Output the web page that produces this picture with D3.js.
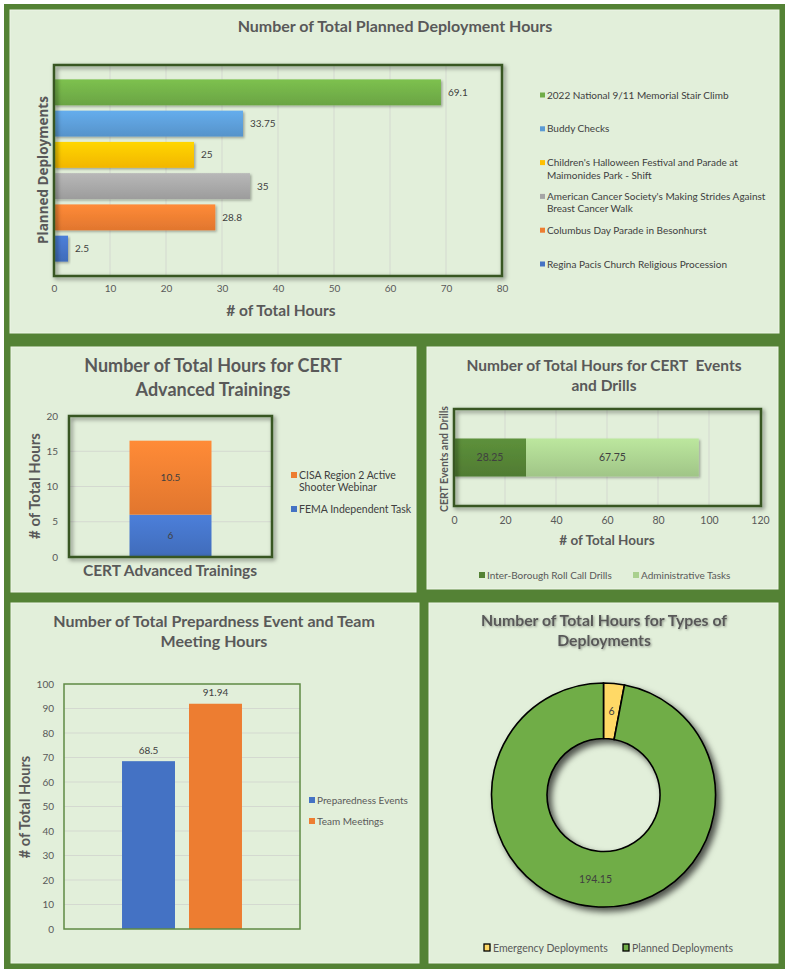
<!DOCTYPE html>
<html>
<head>
<meta charset="utf-8">
<script src="https://cdn.jsdelivr.net/npm/d3@7"></script>
<style>
  body { margin: 0; background: #fff; }
  svg { display: block; font-family: Lato, "Liberation Sans", sans-serif; }
</style>
</head>
<body>
<div id="dash"></div>
<script>
// ---------------------------------------------------------------- data
var deployNames = [
  "2022 National 9/11 Memorial Stair Climb",
  "Buddy Checks",
  "Children's Halloween Festival and Parade at Maimonides Park - Shift",
  "American Cancer Society's Making Strides Against Breast Cancer Walk",
  "Columbus Day Parade in Besonhurst",
  "Regina Pacis Church Religious Procession"
];
var deployHours = [69.1, 33.75, 25, 35, 28.8, 2.5];
var deployColors = ["#70ad47", "#5b9bd5", "#ffc000", "#a5a5a5", "#ed7d31", "#4472c4"];

var trainingCategory = "CERT Advanced Trainings";
var trainingNames = ["FEMA Independent Task", "CISA Region 2 Active Shooter Webinar"];
var trainingHours = [6, 10.5];
var trainingColors = ["#4472c4", "#ed7d31"];

var drillCategory = "CERT Events and Drills";
var drillNames = ["Inter-Borough Roll Call Drills", "Administrative Tasks"];
var drillHours = [28.25, 67.75];
var drillColors = ["#548235", "#a9d08e"];

var prepCategory = "Hours";
var prepNames = ["Preparedness Events", "Team Meetings"];
var prepHours = [68.5, 91.94];
var prepColors = ["#4472c4", "#ed7d31"];

var typeNames = ["Emergency Deployments", "Planned Deployments"];
var typeHours = [6, 194.15];
var typeColors = ["#ffd966", "#70ad47"];

// ---------------------------------------------------------------- setup
var W = 785, H = 969;
var panelFill = "#e2efda";
var titleColor = "#595959";
var labelColor = "#404040";
var gridColor = "#d4d9d0";
var boxColor = "#375623";

var svg = d3.select("#dash").append("svg")
  .attr("width", W)
  .attr("height", H);

var defs = svg.append("defs");

function shadow(id, dx, dy, sd, op) {
  defs.append("filter")
    .attr("id", id)
    .attr("x", "-20%").attr("y", "-20%")
    .attr("width", "140%").attr("height", "140%")
    .append("feDropShadow")
    .attr("dx", dx).attr("dy", dy)
    .attr("stdDeviation", sd)
    .attr("flood-color", "#000")
    .attr("flood-opacity", op);
}
shadow("boxShadow", 2, 2, 2, 0.5);
shadow("barShadow", 1.5, 1.5, 1.2, 0.3);
shadow("ringShadow", 4, 4, 3, 0.65);
shadow("textShadow", 1, 1, 0.8, 0.35);

// vertical gradient, lighter on top like the Excel preset fills
function gradient(id, color) {
  var g = defs.append("linearGradient")
    .attr("id", id)
    .attr("x1", 0).attr("y1", 0).attr("x2", 0).attr("y2", 1);
  g.append("stop").attr("offset", "0%").attr("stop-color", d3.color(color).brighter(0.3));
  g.append("stop").attr("offset", "100%").attr("stop-color", d3.color(color).darker(0.15));
  return "url(#" + id + ")";
}

// green frame and the five panels
svg.append("rect")
  .attr("x", 4).attr("y", 4)
  .attr("width", W - 4).attr("height", H - 4)
  .attr("fill", "#548235");

function panel(x, y, w, h) {
  svg.append("rect")
    .attr("x", x).attr("y", y)
    .attr("width", w).attr("height", h)
    .attr("fill", panelFill)
    .attr("stroke", "#eef6e8")
    .attr("stroke-width", 1);
  return svg.append("g");
}

function title(g, lines, cx, cy, lh, size) {
  var t = g.append("text")
    .attr("text-anchor", "middle")
    .attr("fill", titleColor)
    .style("font-weight", "bold")
    .style("font-size", size + "px");
  lines.forEach(function(l, i) {
    t.append("tspan")
      .attr("x", cx)
      .attr("y", cy + i * lh)
      .attr("dy", "0.35em")
      .text(l);
  });
  return t;
}

// wrap legend text into tspans that fit a width
function wrap(sel, width, lh) {
  sel.each(function() {
    var t = d3.select(this),
        words = t.text().split(/\s+/),
        x = +t.attr("x"), y = +t.attr("y"),
        line = [], n = 0;
    var tspan = t.text(null).append("tspan").attr("x", x).attr("y", y).attr("dy", "0.35em");
    words.forEach(function(w) {
      line.push(w);
      tspan.text(line.join(" "));
      if (tspan.node().getComputedTextLength() > width && line.length > 1) {
        line.pop();
        tspan.text(line.join(" "));
        line = [w];
        n++;
        tspan = t.append("tspan").attr("x", x).attr("y", y + n * lh).attr("dy", "0.35em").text(w);
      }
    });
  });
}

function styleAxis(g, size) {
  g.attr("font-family", null).attr("font-size", null);
  g.select(".domain").remove();
  g.selectAll("text")
    .attr("fill", titleColor)
    .style("font-size", size + "px");
}

// ---------------------------------------------------------------- chart 1
var c1 = panel(10, 10, W - 16, 323);
title(c1, ["Number of Total Planned Deployment Hours"], 395, 26, 0, 16);

var x1 = d3.scaleLinear().domain([0, 80]).range([54, 502]);
var y1 = d3.scaleBand().domain(deployNames).range([65, 276])
  .paddingInner(0.17).paddingOuter(0.46);

c1.append("g").selectAll("line")
  .data(x1.ticks(8).slice(1, -1))
  .enter().append("line")
  .attr("x1", d => x1(d)).attr("x2", d => x1(d))
  .attr("y1", 65).attr("y2", 276)
  .attr("stroke", gridColor);

c1.append("g")
  .attr("transform", "translate(0,276)")
  .call(d3.axisBottom(x1).ticks(8).tickSize(0).tickPadding(9))
  .call(g => styleAxis(g, 10));

c1.append("g").selectAll("rect")
  .data(deployNames)
  .enter().append("rect")
  .attr("x", x1(0))
  .attr("y", d => y1(d))
  .attr("width", (d, i) => x1(deployHours[i]) - x1(0))
  .attr("height", y1.bandwidth())
  .attr("fill", (d, i) => gradient("g1_" + i, deployColors[i]))
  .attr("filter", "url(#barShadow)");

c1.append("g").selectAll("text")
  .data(deployNames)
  .enter().append("text")
  .attr("x", (d, i) => x1(deployHours[i]) + 7)
  .attr("y", d => y1(d) + y1.bandwidth() / 2)
  .attr("dy", "0.35em")
  .attr("fill", labelColor)
  .style("font-size", "10px")
  .text((d, i) => deployHours[i]);

c1.append("rect")
  .attr("x", 54).attr("y", 65)
  .attr("width", 448).attr("height", 211)
  .attr("fill", "none")
  .attr("stroke", boxColor)
  .attr("stroke-width", 2.5)
  .attr("filter", "url(#boxShadow)");

c1.append("text")
  .attr("x", 281).attr("y", 311).attr("dy", "0.35em")
  .attr("text-anchor", "middle")
  .attr("fill", titleColor)
  .style("font-weight", "bold").style("font-size", "15.5px")
  .text("# of Total Hours");

c1.append("text")
  .attr("transform", "translate(43,170) rotate(-90)")
  .attr("dy", "0.35em")
  .attr("text-anchor", "middle")
  .attr("fill", titleColor)
  .style("font-family", "'Open Sans', sans-serif")
  .style("font-weight", "bold").style("font-size", "13.5px")
  .text("Planned Deployments");

var leg1 = c1.append("g").selectAll("g")
  .data(deployNames)
  .enter().append("g");
leg1.append("rect")
  .attr("x", 540).attr("y", (d, i) => 95 + i * 33.8 - 2.5)
  .attr("width", 5).attr("height", 5)
  .attr("fill", (d, i) => deployColors[i]);
leg1.append("text")
  .attr("x", 547).attr("y", (d, i) => 95 + i * 33.8)
  .attr("fill", labelColor)
  .style("font-size", "10px")
  .text(d => d)
  .call(wrap, 226, 12.5);

// ---------------------------------------------------------------- chart 2
var c2 = panel(11, 347, 405, 245);
title(c2, ["Number of Total Hours for CERT", "Advanced Trainings"], 213, 366, 24, 18);

var y2 = d3.scaleLinear().domain([0, 20]).range([557, 416]);
var x2 = d3.scaleBand().domain([trainingCategory]).range([69, 272]).padding(0.4246);

c2.append("g").selectAll("line")
  .data(y2.ticks(4).slice(1, -1))
  .enter().append("line")
  .attr("x1", 69).attr("x2", 272)
  .attr("y1", d => y2(d)).attr("y2", d => y2(d))
  .attr("stroke", gridColor);

c2.append("g")
  .attr("transform", "translate(69,0)")
  .call(d3.axisLeft(y2).ticks(4).tickSize(0).tickPadding(11))
  .call(g => styleAxis(g, 10));

var trainRow = { cat: trainingCategory };
trainingNames.forEach((n, i) => trainRow[n] = trainingHours[i]);
var stack2 = d3.stack().keys(trainingNames)([trainRow]);

c2.append("g").selectAll("rect")
  .data(stack2)
  .enter().append("rect")
  .attr("x", x2(trainingCategory))
  .attr("y", d => y2(d[0][1]))
  .attr("width", x2.bandwidth())
  .attr("height", d => y2(d[0][0]) - y2(d[0][1]))
  .attr("fill", (d, i) => gradient("g2_" + i, trainingColors[i]));

c2.append("g").selectAll("text")
  .data(stack2)
  .enter().append("text")
  .attr("x", x2(trainingCategory) + x2.bandwidth() / 2)
  .attr("y", d => y2((d[0][0] + d[0][1]) / 2))
  .attr("dy", "0.35em")
  .attr("text-anchor", "middle")
  .attr("fill", labelColor)
  .style("font-size", "10px")
  .text((d, i) => trainingHours[i]);

c2.append("rect")
  .attr("x", 69).attr("y", 416)
  .attr("width", 203).attr("height", 141)
  .attr("fill", "none")
  .attr("stroke", boxColor)
  .attr("stroke-width", 2.5)
  .attr("filter", "url(#boxShadow)");

c2.append("text")
  .attr("x", 170).attr("y", 571).attr("dy", "0.35em")
  .attr("text-anchor", "middle")
  .attr("fill", titleColor)
  .style("font-weight", "bold").style("font-size", "15.5px")
  .text(trainingCategory);

c2.append("text")
  .attr("transform", "translate(35,486) rotate(-90)")
  .attr("dy", "0.35em")
  .attr("text-anchor", "middle")
  .attr("fill", titleColor)
  .style("font-weight", "bold").style("font-size", "15px")
  .text("# of Total Hours");

var leg2Names = trainingNames.slice().reverse();
var leg2Colors = trainingColors.slice().reverse();
var leg2Y = [475, 509];
var leg2 = c2.append("g").selectAll("g")
  .data(leg2Names)
  .enter().append("g");
leg2.append("rect")
  .attr("x", 291).attr("y", (d, i) => leg2Y[i] - 3)
  .attr("width", 6).attr("height", 6)
  .attr("fill", (d, i) => leg2Colors[i]);
leg2.append("text")
  .attr("x", 299).attr("y", (d, i) => leg2Y[i])
  .attr("fill", labelColor)
  .style("font-size", "10.5px")
  .text(d => d)
  .call(wrap, 113, 12.5);

// ---------------------------------------------------------------- chart 3
var c3 = panel(427, 347, 351, 242);
title(c3, ["Number of Total Hours for CERT  Events", "and Drills"], 604, 366, 20, 15.5)
  .style("white-space", "pre");

var x3 = d3.scaleLinear().domain([0, 120]).range([454, 760]);
var y3 = d3.scaleBand().domain([drillCategory]).range([409, 506]).padding(0.437);

c3.append("g").selectAll("line")
  .data(x3.ticks(6).slice(1, -1))
  .enter().append("line")
  .attr("x1", d => x3(d)).attr("x2", d => x3(d))
  .attr("y1", 409).attr("y2", 506)
  .attr("stroke", gridColor);

c3.append("g")
  .attr("transform", "translate(0,506)")
  .call(d3.axisBottom(x3).ticks(6).tickSize(0).tickPadding(11))
  .call(g => styleAxis(g, 10.5));

var drillRow = { cat: drillCategory };
drillNames.forEach((n, i) => drillRow[n] = drillHours[i]);
var stack3 = d3.stack().keys(drillNames)([drillRow]);

c3.append("g").selectAll("rect")
  .data(stack3)
  .enter().append("rect")
  .attr("x", d => x3(d[0][0]))
  .attr("y", y3(drillCategory))
  .attr("width", d => x3(d[0][1]) - x3(d[0][0]))
  .attr("height", y3.bandwidth())
  .attr("fill", (d, i) => gradient("g3_" + i, drillColors[i]))
  .attr("filter", "url(#barShadow)");

c3.append("g").selectAll("text")
  .data(stack3)
  .enter().append("text")
  .attr("x", d => x3((d[0][0] + d[0][1]) / 2))
  .attr("y", y3(drillCategory) + y3.bandwidth() / 2)
  .attr("dy", "0.35em")
  .attr("text-anchor", "middle")
  .attr("fill", labelColor)
  .style("font-size", "10.5px")
  .text((d, i) => drillHours[i]);

c3.append("rect")
  .attr("x", 454).attr("y", 409)
  .attr("width", 307).attr("height", 97)
  .attr("fill", "none")
  .attr("stroke", boxColor)
  .attr("stroke-width", 2.5)
  .attr("filter", "url(#boxShadow)");

c3.append("text")
  .attr("x", 607).attr("y", 540).attr("dy", "0.35em")
  .attr("text-anchor", "middle")
  .attr("fill", titleColor)
  .style("font-weight", "bold").style("font-size", "13.5px")
  .text("# of Total Hours");

c3.append("text")
  .attr("transform", "translate(444,459) rotate(-90)")
  .attr("dy", "0.35em")
  .attr("text-anchor", "middle")
  .attr("fill", titleColor)
  .style("font-weight", "bold").style("font-size", "10.5px")
  .text(drillCategory);

var leg3X = [479, 633];
var leg3 = c3.append("g").selectAll("g")
  .data(drillNames)
  .enter().append("g");
leg3.append("rect")
  .attr("x", (d, i) => leg3X[i]).attr("y", 572)
  .attr("width", 6).attr("height", 6)
  .attr("fill", (d, i) => drillColors[i]);
leg3.append("text")
  .attr("x", (d, i) => leg3X[i] + 8).attr("y", 575).attr("dy", "0.35em")
  .attr("fill", titleColor)
  .style("font-size", "10px")
  .text(d => d);

// ---------------------------------------------------------------- chart 4
var c4 = panel(11, 603, 408, 360);
title(c4, ["Number of Total Prepardness Event and Team", "Meeting Hours"], 214, 621, 20, 16);

var y4 = d3.scaleLinear().domain([0, 100]).range([929, 684]);
var x4 = d3.scaleBand().domain([prepCategory]).range([64, 300]).padding(0.326);
var x4s = d3.scaleBand().domain(prepNames).range([0, x4.bandwidth()]).paddingInner(0.209);

c4.append("g").selectAll("line")
  .data(y4.ticks(10).slice(1, -1))
  .enter().append("line")
  .attr("x1", 64).attr("x2", 300)
  .attr("y1", d => y4(d)).attr("y2", d => y4(d))
  .attr("stroke", gridColor);

c4.append("g")
  .attr("transform", "translate(64,0)")
  .call(d3.axisLeft(y4).ticks(10).tickSize(0).tickPadding(10))
  .call(g => styleAxis(g, 10));

c4.append("g").selectAll("rect")
  .data(prepNames)
  .enter().append("rect")
  .attr("x", d => x4(prepCategory) + x4s(d))
  .attr("y", (d, i) => y4(prepHours[i]))
  .attr("width", x4s.bandwidth())
  .attr("height", (d, i) => y4(0) - y4(prepHours[i]))
  .attr("fill", (d, i) => prepColors[i]);

c4.append("g").selectAll("text")
  .data(prepNames)
  .enter().append("text")
  .attr("x", d => x4(prepCategory) + x4s(d) + x4s.bandwidth() / 2)
  .attr("y", (d, i) => y4(prepHours[i]) - 11)
  .attr("dy", "0.35em")
  .attr("text-anchor", "middle")
  .attr("fill", labelColor)
  .style("font-size", "10px")
  .text((d, i) => prepHours[i]);

c4.append("rect")
  .attr("x", 64).attr("y", 684)
  .attr("width", 236).attr("height", 245)
  .attr("fill", "none")
  .attr("stroke", "#5f8a44")
  .attr("stroke-width", 1.5);

c4.append("text")
  .attr("transform", "translate(25,807) rotate(-90)")
  .attr("dy", "0.35em")
  .attr("text-anchor", "middle")
  .attr("fill", titleColor)
  .style("font-weight", "bold").style("font-size", "14.5px")
  .text("# of Total Hours");

var leg4 = c4.append("g").selectAll("g")
  .data(prepNames)
  .enter().append("g");
leg4.append("rect")
  .attr("x", 309).attr("y", (d, i) => 800 + i * 21 - 3)
  .attr("width", 6).attr("height", 6)
  .attr("fill", (d, i) => prepColors[i]);
leg4.append("text")
  .attr("x", 317).attr("y", (d, i) => 800 + i * 21).attr("dy", "0.35em")
  .attr("fill", titleColor)
  .style("font-size", "10px")
  .text(d => d);

// ---------------------------------------------------------------- chart 5
var c5 = panel(429, 603, 349, 360);
title(c5, ["Number of Total Hours for Types of", "Deployments"], 604, 620, 20, 15.8)
  .attr("filter", "url(#textShadow)");

var pie = d3.pie().sort(null).value(d => d);
var arc5 = d3.arc().innerRadius(56.5).outerRadius(112);
var slices = pie(typeHours);

var ring = c5.append("g").attr("transform", "translate(603.5,795)");
ring.append("g")
  .attr("filter", "url(#ringShadow)")
  .selectAll("path")
  .data(slices)
  .enter().append("path")
  .attr("d", arc5)
  .attr("fill", (d, i) => typeColors[i])
  .attr("stroke", "#000")
  .attr("stroke-width", 1.6);

ring.append("g").selectAll("text")
  .data(slices)
  .enter().append("text")
  .attr("transform", d => "translate(" + arc5.centroid(d) + ")")
  .attr("dy", "0.35em")
  .attr("text-anchor", "middle")
  .attr("fill", labelColor)
  .style("font-size", "10.5px")
  .text(d => d.data);

var leg5X = [484, 623];
var leg5 = c5.append("g").selectAll("g")
  .data(typeNames)
  .enter().append("g");
leg5.append("rect")
  .attr("x", (d, i) => leg5X[i]).attr("y", 944)
  .attr("width", 6).attr("height", 7)
  .attr("fill", (d, i) => typeColors[i])
  .attr("stroke", "#000")
  .attr("stroke-width", 1.3);
leg5.append("text")
  .attr("x", (d, i) => leg5X[i] + 9).attr("y", 948).attr("dy", "0.35em")
  .attr("fill", titleColor)
  .style("font-size", "10.5px")
  .text(d => d);
</script>
</body>
</html>
